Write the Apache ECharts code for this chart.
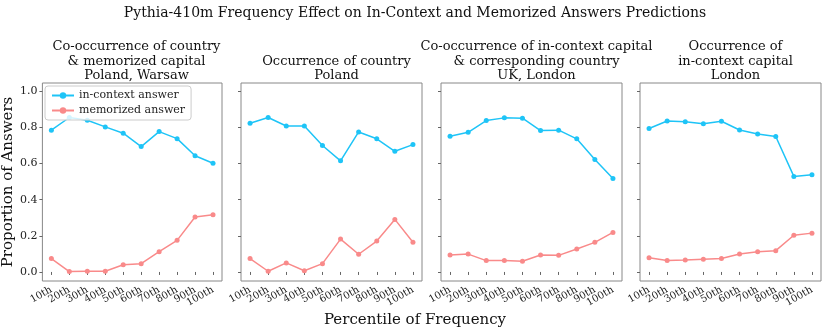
<html>
<head>
    <meta http-equiv="Content-Type" content="text/html; charset=utf-8" />
</head>
<script type="text/javascript" src="https://cdn.jsdelivr.net/npm/echarts@6/dist/echarts.min.js"></script>
<body style="margin:0">
<div id="main" style="width: 830px;height:331px;"></div>
</body>
<script type="text/javascript">
    // data
    var percentiles = ['10th','20th','30th','40th','50th','60th','70th','80th','90th','100th'];
    var panelTitles = [
        'Co-occurrence of country\n& memorized capital\nPoland, Warsaw',
        'Occurrence of country\nPoland',
        'Co-occurrence of in-context capital\n& corresponding country\nUK, London',
        'Occurrence of\nin-context capital\nLondon'
    ];
    var inContext1 = [0.785, 0.855, 0.840, 0.803, 0.768, 0.694, 0.777, 0.738, 0.643, 0.602];
    var memorized1 = [0.074, 0.002, 0.004, 0.004, 0.040, 0.046, 0.112, 0.175, 0.304, 0.317];
    var inContext2 = [0.823, 0.855, 0.808, 0.808, 0.700, 0.615, 0.775, 0.737, 0.668, 0.705];
    var memorized2 = [0.074, 0.004, 0.050, 0.007, 0.046, 0.182, 0.098, 0.171, 0.291, 0.164];
    var inContext3 = [0.751, 0.773, 0.838, 0.853, 0.851, 0.783, 0.785, 0.737, 0.622, 0.517];
    var memorized3 = [0.094, 0.099, 0.063, 0.064, 0.059, 0.094, 0.092, 0.127, 0.164, 0.219];
    var inContext4 = [0.794, 0.836, 0.832, 0.821, 0.834, 0.786, 0.764, 0.750, 0.529, 0.538];
    var memorized4 = [0.079, 0.064, 0.066, 0.070, 0.074, 0.099, 0.112, 0.118, 0.203, 0.215];
    var yTicks = [0.0, 0.2, 0.4, 0.6, 0.8, 1.0];

    var inCtx = [inContext1, inContext2, inContext3, inContext4];
    var memo = [memorized1, memorized2, memorized3, memorized4];

    var blue = '#1ec4f7';
    var red = '#f98a8a';
    var font = 'DejaVu Serif';
    var lefts = [41, 241, 441, 640];
    var pw = 181;

    var grids = [], xAxes = [], yAxes = [], series = [], titles = [];
    titles.push({
        text: 'Pythia-410m Frequency Effect on In-Context and Memorized Answers Predictions',
        left: 'center', top: 1,
        textStyle: {fontFamily: font, fontSize: 14, fontWeight: 'normal', color: '#111'}
    });
    for (var p = 0; p < 4; p++) {
        grids.push({left: lefts[p], width: pw, top: 83, height: 198, show: true,
            borderColor: '#888', borderWidth: 1, backgroundColor: 'transparent'});
        xAxes.push({
            type: 'category', gridIndex: p, data: percentiles, boundaryGap: true,
            axisLine: {show: false},
            axisTick: {show: true, alignWithLabel: true, length: 3, lineStyle: {color: '#666'}},
            splitLine: {show: false},
            axisLabel: {
                rotate: 30, interval: 0, fontFamily: font, fontSize: 10, color: '#222', margin: 8
            }
        });
        yAxes.push({
            type: 'value', gridIndex: p, min: -0.05, max: 1.046,
            axisLine: {show: false},
            axisTick: {show: true, length: 3, customValues: yTicks, lineStyle: {color: '#666'}},
            splitLine: {show: false},
            name: p === 0 ? 'Proportion of Answers' : '',
            nameLocation: 'middle', nameGap: 25,
            nameTextStyle: {fontFamily: font, fontSize: 15, color: '#111'},
            axisLabel: {
                show: p === 0, fontFamily: font, fontSize: 11, color: '#222', margin: 5,
                customValues: yTicks,
                formatter: function (v) { return v.toFixed(1); }
            }
        });
        series.push({
            name: 'in-context answer', type: 'line', xAxisIndex: p, yAxisIndex: p,
            data: inCtx[p], symbol: 'circle', symbolSize: 5,
            lineStyle: {color: blue, width: 1.5}, itemStyle: {color: blue}
        });
        series.push({
            name: 'memorized answer', type: 'line', xAxisIndex: p, yAxisIndex: p,
            data: memo[p], symbol: 'circle', symbolSize: 5,
            lineStyle: {color: red, width: 1.5}, itemStyle: {color: red}
        });
        var nLines = panelTitles[p].split('\n').length;
        titles.push({
            text: panelTitles[p], left: lefts[p] + pw / 2, textAlign: 'center',
            top: 82 - nLines * 14.5 - 4,
            textStyle: {fontFamily: font, fontSize: 13, fontWeight: 'normal', color: '#111', lineHeight: 14.5}
        });
    }

    var myChart = echarts.init(document.getElementById('main'));
    myChart.setOption({
        animation: false,
        backgroundColor: '#fff',
        title: titles,
        grid: grids,
        xAxis: xAxes,
        yAxis: yAxes,
        series: series,
        legend: {
            data: ['in-context answer', 'memorized answer'],
            orient: 'vertical', left: 45, top: 86,
            itemWidth: 22, itemHeight: 8, itemGap: 4,
            padding: [4, 6, 4, 6],
            backgroundColor: 'rgba(255,255,255,0.8)',
            borderColor: '#ccc', borderWidth: 1, borderRadius: 3,
            textStyle: {fontFamily: font, fontSize: 11, color: '#222'}
        },
        graphic: [{
            type: 'text', left: 'center', top: 313,
            style: {text: 'Percentile of Frequency', font: '15px "DejaVu Serif"', fill: '#111'}
        }]
    });
</script>
</html>
